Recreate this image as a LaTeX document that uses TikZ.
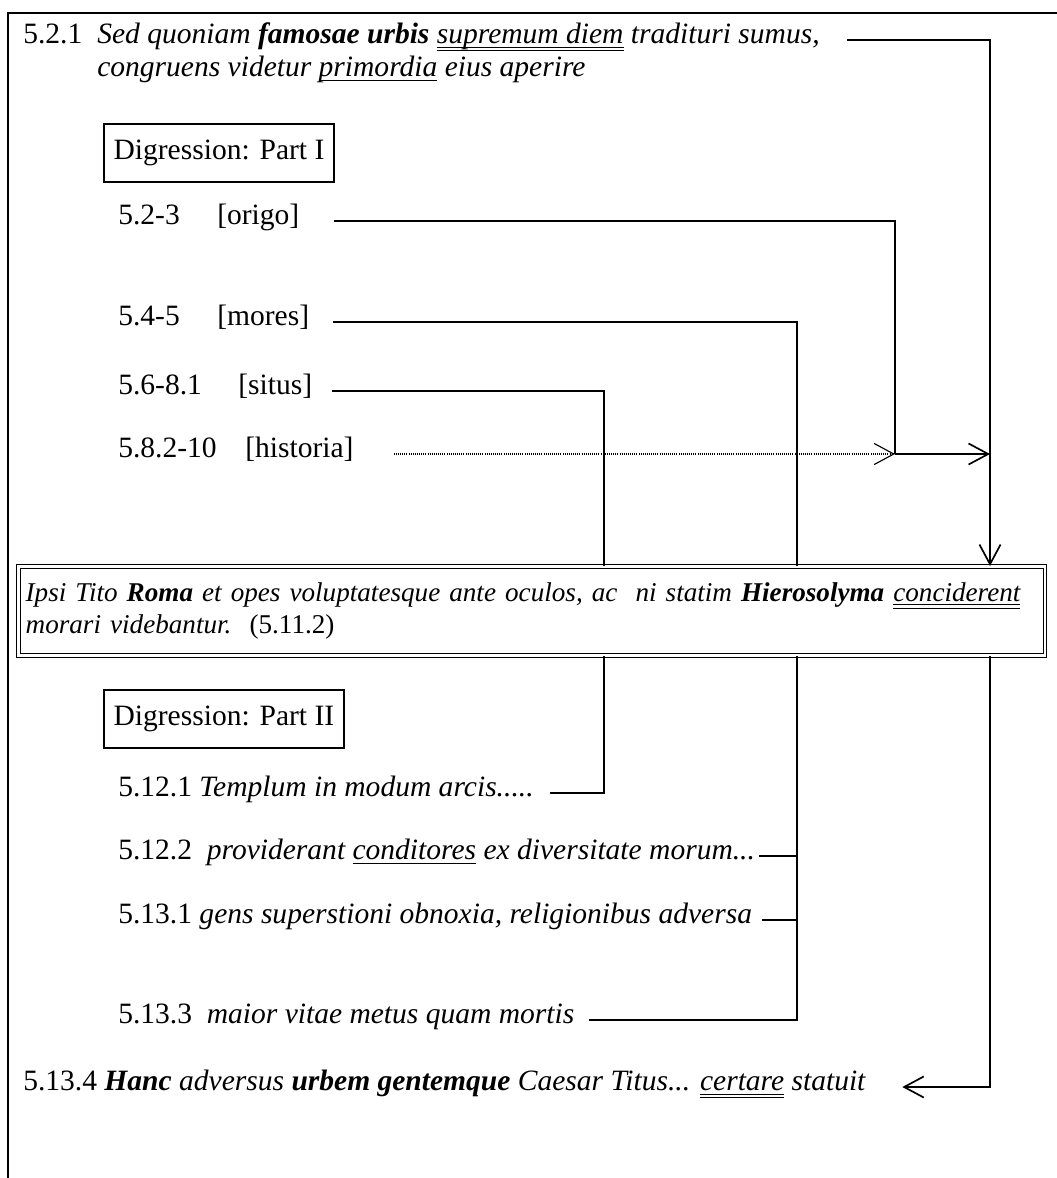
\documentclass[tikz,border=0pt]{standalone}
\usepackage{fontspec}
\setmainfont{Liberation Serif}
\usetikzlibrary{arrows.meta,positioning}

% single and double underline
\newcommand{\ulw}[1]{\leavevmode\setbox0\hbox{#1}\rlap{\rule[-3pt]{\wd0}{0.8pt}}\box0\relax}
\newcommand{\uulw}[1]{\leavevmode\setbox0\hbox{#1}\rlap{\rule[-2.6pt]{\wd0}{0.7pt}}\rlap{\rule[-5pt]{\wd0}{0.7pt}}\box0\relax}

\begin{document}
\begin{tikzpicture}[
    x=0.025cm, y=-0.025cm,
    font=\fontsize{21}{24}\selectfont,
    >={Straight Barb[length=14pt,width=15pt]},
    % text lines and boxes
    txt/.style={inner sep=0pt, text height=1.6ex, text depth=0.4ex, anchor=west},
    boxed/.style={draw, line width=1.1pt, inner xsep=7pt, minimum height=1.45cm, anchor=west},
    quotebox/.style={draw, double, double distance=1.6pt, line width=0.7pt, text width=25.3cm,
        align=left, inner xsep=0.18cm, minimum height=2.225cm, anchor=north west,
        font=\fontsize{19.3}{22.5}\selectfont},
    % connectors
    link/.style={line width=1.2pt},
    dots/.style={line width=0.8pt, dash pattern=on 0.6pt off 0.9pt}
]

\useasboundingbox (0,0) rectangle (1057,1178);

% frame
\draw[link] (8,1178) -- (8,13) -- (1057,13);

% --- opening sentence ---
\node[txt] (n521) at (23,40) {5.2.1};
\node[txt] (intro1) at (97,40) {\itshape Sed quoniam \textbf{famosae urbis} \uulw{supremum diem} tradituri sumus,};
\node[txt] (intro2) at (97,73) {\itshape congruens videtur \ulw{primordia} eius aperire};

% --- digression, part I ---
\node[boxed] (dig1) at (103,153) {Digression: Part I};

\node[txt] (n23) at (118,221) {5.2-3};
\node[txt] (origo) at (217,221) {[origo]};
\node[txt] (n45) at (118,322) {5.4-5};
\node[txt] (mores) at (217,322) {[mores]};
\node[txt] (n68) at (118,391) {5.6-8.1};
\node[txt] (situs) at (238,391) {[situs]};
\node[txt] (n82) at (118,454) {5.8.2-10};
\node[txt] (historia) at (245,454) {[historia]};

% --- the central sentence ---
\node[quotebox] (quote) at (18,566)
    {\itshape Ipsi Tito \textbf{Roma} et opes voluptatesque ante oculos, ac\ \ ni statim \textbf{Hierosolyma} \uulw{conciderent}\\
     \itshape morari videbantur.\ \ \upshape (5.11.2)};

% --- digression, part II ---
\node[boxed] (dig2) at (103,719) {Digression: Part II};

\node[txt] (templum) at (118,793) {5.12.1\ \textit{Templum in modum arcis.....}};
\node[txt] (provid) at (118,856) {5.12.2\ \ \textit{providerant \ulw{conditores} ex diversitate morum...}};
\node[txt] (gens) at (118,920) {5.13.1\ \textit{gens superstioni obnoxia, religionibus adversa}};
\node[txt] (maior) at (118,1020) {5.13.3\ \ \textit{maior vitae metus quam mortis}};

\node[txt] (final) at (23,1087) {5.13.4 \textit{\textbf{Hanc} adversus \textbf{urbem gentemque} Caesar Titus... \uulw{certare} statuit}};

% columns and junctions
\coordinate (jn) at (895,454);
\coordinate (rt) at (990,454);
\coordinate (colS) at (604,0);
\coordinate (colM) at (797,0);

% --- connectors above the central sentence ---
\draw[link, ->] ([xshift=0.68cm]intro1.east) -| (quote.north -| rt);
\draw[link] ([xshift=0.85cm]origo.east) -| (jn);
\draw[link] ([xshift=0.6cm]mores.east) -| (quote.north -| colM);
\draw[link] ([xshift=0.5cm]situs.east) -| (quote.north -| colS);
\draw[dots, ->] ([xshift=1cm]historia.east) -- (jn);
\draw[link, ->] (jn) -- (rt);

% --- connectors below it ---
\draw[link] (quote.south -| colS) |- ([xshift=0.4cm]templum.east);
\draw[link] (quote.south -| colM) |- ([xshift=0.35cm]maior.east);
\draw[link] ([xshift=0.1cm]provid.east) -- (provid.east -| colM);
\draw[link] ([xshift=0.25cm]gens.east) -- (gens.east -| colM);
\draw[link, ->] (quote.south -| rt) |- ([xshift=0.9cm]final.east);

\end{tikzpicture}
\end{document}
